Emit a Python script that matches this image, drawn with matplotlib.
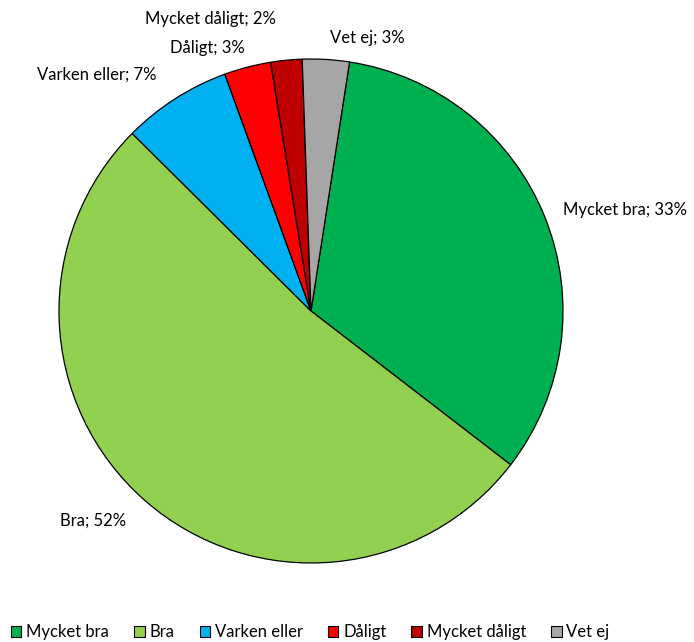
import matplotlib
matplotlib.use("Agg")
import matplotlib.pyplot as plt

# survey answers, share in percent
categories = ["Mycket bra", "Bra", "Varken eller", "Dåligt", "Mycket dåligt", "Vet ej"]
shares = [33, 52, 7, 3, 2, 3]
colors = ["#00B050", "#92D050", "#00B0F0", "#FF0000", "#C00000", "#A6A6A6"]

# label anchor points (left edge, in pie-radius units)
label_pos = [(1.0, 0.40), (-0.996, -0.833), (-1.087, 0.937),
             (-0.56, 1.044), (-0.659, 1.159), (0.075, 1.083)]

plt.rcParams["font.family"] = ["Lato", "DejaVu Sans"]

W, H = 694, 642
fig = plt.figure(figsize=(W / 100, H / 100), dpi=100)
cx, cy, r = 311, 311, 252
ax = fig.add_axes([(cx - r) / W, (H - cy - r) / H, 2 * r / W, 2 * r / H])

wedges, _ = ax.pie(shares, colors=colors, startangle=81.2, counterclock=False,
                   radius=1, wedgeprops=dict(edgecolor="black", linewidth=0.9))
ax.set_xlim(-1, 1)
ax.set_ylim(-1, 1)
ax.set_aspect("equal")
ax.axis("off")

for name, val, (x, y) in zip(categories, shares, label_pos):
    ax.text(x, y, f"{name}; {val}%", ha="left", va="center", fontsize=12, color="black")

leg = fig.legend(wedges, categories, loc="center left", bbox_to_anchor=(11 / W, 1 - 632 / H),
                 ncol=6, frameon=False, fontsize=12, handlelength=0.62, handleheight=0.62,
                 handletextpad=0.3, columnspacing=1.5, borderpad=0, borderaxespad=0)
for h in leg.legend_handles:
    h.set_linewidth(0.8)

fig.savefig("out.png", dpi=100)
